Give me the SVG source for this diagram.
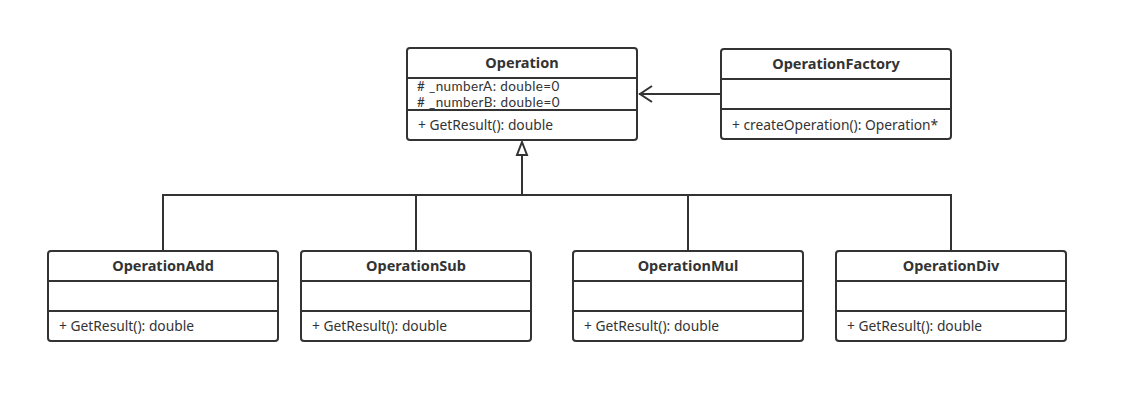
<svg xmlns="http://www.w3.org/2000/svg" width="1128" height="403" viewBox="0 0 1128 403">
<style>
.box{fill:#fff;stroke:#333;stroke-width:2}
.ln{stroke:#333;stroke-width:2;fill:none}
.t{font-family:"Noto Sans","Open Sans",sans-serif;font-size:14.5px;fill:#333;font-weight:bold;text-anchor:middle}
.m{font-family:"Noto Sans","Open Sans",sans-serif;font-size:13.8px;fill:#333}
.a{font-family:Lato,"Noto Sans",sans-serif;font-size:13.5px;fill:#333;letter-spacing:0.4px}
</style>
<defs>
<marker id="tri" markerWidth="14" markerHeight="16" refX="6" refY="1" orient="0" markerUnits="userSpaceOnUse" viewBox="0 0 12 16">
<path d="M6,1 L11,14 L1,14 Z" fill="#fff" stroke="#333" stroke-width="2"/>
</marker>
<marker id="open" markerWidth="16" markerHeight="20" refX="1" refY="10" orient="0" markerUnits="userSpaceOnUse" viewBox="0 0 16 20">
<path d="M14,2 L2,10 L14,18" fill="none" stroke="#333" stroke-width="2"/>
</marker>
</defs>
<rect width="1128" height="403" fill="#fff"/>
<g id="connectors">
<path class="ln" d="M163,251 V195 H951 V251"/>
<path class="ln" d="M416,195 V251"/>
<path class="ln" d="M688,195 V251"/>
<path class="ln" d="M522,195 V142" marker-end="url(#tri)"/>
<path class="ln" d="M721,94 H639" marker-end="url(#open)"/>
</g>
<g id="Operation">
<rect class="box" x="407" y="48" width="230" height="92" rx="3"/>
<path class="ln" d="M407,78 H637 M407,110 H637"/>
<text class="t" x="522" y="68">Operation</text>
<text class="a" x="417" y="90.5">#  _numberA: double=0</text>
<text class="a" x="417" y="107">#  _numberB: double=0</text>
<text class="m" x="418" y="130">+ GetResult(): double</text>
</g>
<g id="OperationFactory">
<rect class="box" x="721" y="49" width="230" height="90" rx="3"/>
<path class="ln" d="M721,79 H951 M721,109 H951"/>
<text class="t" x="836" y="69">OperationFactory</text>
<text class="m" x="732" y="130">+ createOperation(): Operation*</text>
</g>
<g id="OperationAdd">
<rect class="box" x="48" y="251" width="230" height="90" rx="3"/>
<path class="ln" d="M48,281 H278 M48,311 H278"/>
<text class="t" x="163" y="271">OperationAdd</text>
<text class="m" x="59" y="331">+ GetResult(): double</text>
</g>
<g id="OperationSub">
<rect class="box" x="301" y="251" width="230" height="90" rx="3"/>
<path class="ln" d="M301,281 H531 M301,311 H531"/>
<text class="t" x="416" y="271">OperationSub</text>
<text class="m" x="312" y="331">+ GetResult(): double</text>
</g>
<g id="OperationMul">
<rect class="box" x="573" y="251" width="230" height="90" rx="3"/>
<path class="ln" d="M573,281 H803 M573,311 H803"/>
<text class="t" x="688" y="271">OperationMul</text>
<text class="m" x="584" y="331">+ GetResult(): double</text>
</g>
<g id="OperationDiv">
<rect class="box" x="836" y="251" width="230" height="90" rx="3"/>
<path class="ln" d="M836,281 H1066 M836,311 H1066"/>
<text class="t" x="951" y="271">OperationDiv</text>
<text class="m" x="847" y="331">+ GetResult(): double</text>
</g>
</svg>
